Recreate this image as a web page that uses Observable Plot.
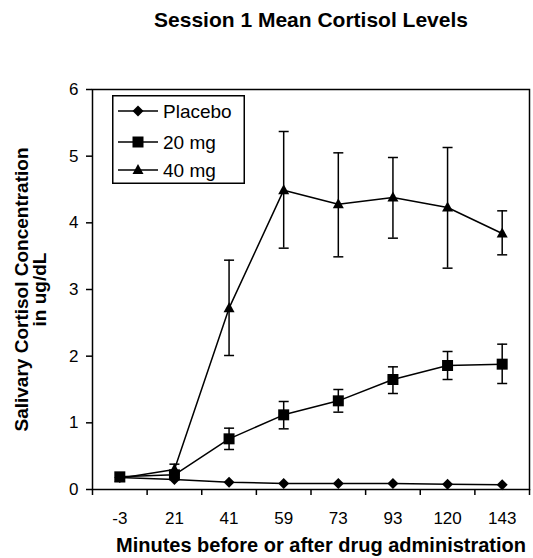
<!DOCTYPE html>
<html>
<head>
<meta charset="utf-8">
<script src="https://cdn.jsdelivr.net/npm/d3@7"></script>
<script src="https://cdn.jsdelivr.net/npm/@observablehq/plot@0.6"></script>
<style>
  html, body { margin: 0; padding: 0; background: white; }
  #wrap { position: relative; width: 533px; height: 558px; font-family: "Liberation Sans", Arial, sans-serif; }
  #legend { position: absolute; left: 112px; top: 95px; }
</style>
</head>
<body>
<div id="wrap"></div>
<script>
// ---- data ----
const times = ["-3", "21", "41", "59", "73", "93", "120", "143"];
const seriesNames = ["Placebo", "20 mg", "40 mg"];
const placebo = [0.18, 0.15, 0.11, 0.09, 0.09, 0.09, 0.08, 0.07];
const mg20    = [0.19, 0.22, 0.76, 1.12, 1.33, 1.65, 1.86, 1.88];
const mg20Lo  = [null, 0.18, 0.60, 0.91, 1.16, 1.44, 1.65, 1.59];
const mg20Hi  = [null, 0.27, 0.92, 1.32, 1.50, 1.84, 2.07, 2.18];
const mg40    = [0.17, 0.30, 2.72, 4.49, 4.28, 4.38, 4.23, 3.84];
const mg40Lo  = [null, 0.22, 2.01, 3.62, 3.49, 3.77, 3.32, 3.52];
const mg40Hi  = [null, 0.38, 3.44, 5.37, 5.05, 4.98, 5.13, 4.18];
const yTicks = [0, 1, 2, 3, 4, 5, 6];
const title = "Session 1 Mean Cortisol Levels";
const xTitle = "Minutes before or after drug administration";
const yTitle = "Salivary Cortisol Concentration\nin ug/dL";

// ---- tables ----
const values = [placebo, mg20, mg40];
const los = [null, mg20Lo, mg40Lo];
const his = [null, mg20Hi, mg40Hi];
const rows = [];
seriesNames.forEach((s, k) => times.forEach((t, i) => rows.push({
  series: s, i, value: values[k][i],
  lo: los[k] ? los[k][i] : null, hi: his[k] ? his[k][i] : null
})));
const errRows = rows.filter(d => d.lo != null);

// ---- symbols (pixel shapes) ----
const diamond = { draw(c) { c.moveTo(0, -5.5); c.lineTo(5.5, 0); c.lineTo(0, 5.5); c.lineTo(-5.5, 0); c.closePath(); } };
const square = { draw(c) { c.moveTo(-5.5, -5.5); c.lineTo(5.5, -5.5); c.lineTo(5.5, 5.5); c.lineTo(-5.5, 5.5); c.closePath(); } };
const triangle = { draw(c) { c.moveTo(0, -6); c.lineTo(5.5, 4); c.lineTo(-5.5, 4); c.closePath(); } };
const cap = { draw(c) { c.moveTo(-5, 0); c.lineTo(5, 0); } };
const symbols = { "Placebo": diamond, "20 mg": square, "40 mg": triangle };

const font = "'Liberation Sans', Arial, sans-serif";
const boundaries = d3.range(-0.5, times.length, 1);

const chart = Plot.plot({
  width: 533,
  height: 558,
  marginLeft: 92,
  marginRight: 4,
  marginTop: 89,
  marginBottom: 69,
  style: { fontFamily: font, fontSize: "17px", background: "white", overflow: "visible" },
  x: { type: "linear", domain: [-0.5, times.length - 0.5] },
  y: { domain: [0, 6] },
  marks: [
    Plot.frame({ stroke: "black", strokeWidth: 1.5 }),
    Plot.axisY({ ticks: yTicks, tickSize: 6, tickPadding: 8, fontSize: 17, label: null, tickFormat: d => String(d), stroke: "black", strokeWidth: 1.5 }),
    Plot.axisX({ ticks: d3.range(times.length), tickSize: 0, tickPadding: 22, fontSize: 17, label: null, tickFormat: i => times[i] }),
    Plot.axisX({ ticks: boundaries, tickSize: 6, tickFormat: () => "", label: null, stroke: "black", strokeWidth: 1.5 }),
    Plot.ruleX(errRows, { x: "i", y1: "lo", y2: "hi", stroke: "black", strokeWidth: 1.5 }),
    Plot.dot(errRows, { x: "i", y: "lo", symbol: cap, stroke: "black", strokeWidth: 1.5, fill: "none" }),
    Plot.dot(errRows, { x: "i", y: "hi", symbol: cap, stroke: "black", strokeWidth: 1.5, fill: "none" }),
    Plot.line(rows, { x: "i", y: "value", z: "series", stroke: "black", strokeWidth: 1.5 }),
    ...seriesNames.map(s => Plot.dot(rows.filter(d => d.series === s), { x: "i", y: "value", symbol: symbols[s], fill: "black", stroke: "none" })),
    Plot.text([title], { frameAnchor: "top", dy: -69, text: d => d, fontWeight: "bold", fontSize: 21, lineAnchor: "middle" }),
    Plot.text([xTitle], { frameAnchor: "bottom", dx: 10, dy: 56, text: d => d, fontWeight: "bold", fontSize: 20, lineAnchor: "middle" }),
    Plot.text([yTitle], { frameAnchor: "left", dx: -61, rotate: -90, text: d => d, textAnchor: "middle", fontWeight: "bold", fontSize: 19, lineHeight: 0.9, lineAnchor: "middle" })
  ]
});

const wrap = document.getElementById("wrap");
wrap.appendChild(chart);

// ---- legend ----
const lw = 133, lh = 89;
const legend = d3.create("svg").attr("id", "legend").attr("width", lw).attr("height", lh)
  .style("font-family", font);
legend.append("rect").attr("x", 0.75).attr("y", 0.75).attr("width", lw - 1.5).attr("height", lh - 1.5)
  .attr("fill", "white").attr("stroke", "black").attr("stroke-width", 1.5);
const rowY = [16, 47, 75];
seriesNames.forEach((s, k) => {
  const g = legend.append("g").attr("transform", `translate(0,${rowY[k]})`);
  g.append("line").attr("x1", 6).attr("x2", 46).attr("stroke", "black").attr("stroke-width", 1.5);
  g.append("path").attr("transform", "translate(26,0)").attr("d", d3.symbol(symbols[s])()).attr("fill", "black");
  g.append("text").attr("x", 51).attr("dy", "0.35em").attr("font-size", 19).text(s);
});
wrap.appendChild(legend.node());
</script>
</body>
</html>
